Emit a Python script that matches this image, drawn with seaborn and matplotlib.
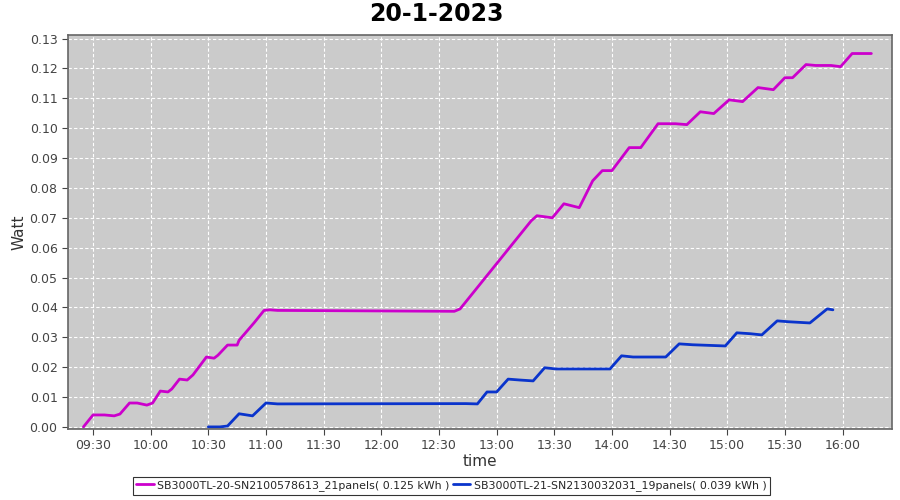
import pandas as pd
import seaborn as sns
import matplotlib.pyplot as plt
import matplotlib.dates as mdates

# values
sb20_times = ['09:25', '09:30', '09:36', '09:41', '09:44', '09:49', '09:53', '09:58', '10:01',
              '10:05', '10:09', '10:11', '10:15', '10:19', '10:22', '10:29', '10:33', '10:35',
              '10:40', '10:45', '10:46', '10:54', '10:59', '11:02', '11:06', '12:38', '12:41',
              '13:18', '13:21', '13:29', '13:35', '13:43', '13:50', '13:55', '14:00', '14:09',
              '14:15', '14:24', '14:33', '14:39', '14:46', '14:53', '15:01', '15:08', '15:16',
              '15:24', '15:30', '15:34', '15:41', '15:46', '15:54', '15:59', '16:05', '16:10', '16:15']
sb20_watt = [0.000, 0.0040, 0.0040, 0.0037, 0.0043, 0.0080, 0.0080, 0.0073, 0.0080,
             0.0120, 0.0117, 0.0127, 0.0160, 0.0157, 0.0174, 0.0234, 0.0230, 0.0240,
             0.0274, 0.0274, 0.0290, 0.0350, 0.0390, 0.0392, 0.0390, 0.0387, 0.0395,
             0.0690, 0.0707, 0.0700, 0.0747, 0.0734, 0.0824, 0.0858, 0.0858, 0.0935,
             0.0935, 0.1015, 0.1015, 0.1012, 0.1055, 0.1049, 0.1095, 0.1089, 0.1136,
             0.1129, 0.1169, 0.1169, 0.1213, 0.1210, 0.1210, 0.1206, 0.1250, 0.1250, 0.1250]

sb21_times = ['10:30', '10:36', '10:40', '10:46', '10:53', '11:00', '11:06', '12:44', '12:50',
              '12:55', '13:00', '13:06', '13:12', '13:19', '13:25', '13:31', '13:59', '14:05',
              '14:11', '14:28', '14:35', '14:42', '14:59', '15:05', '15:12', '15:18', '15:26',
              '15:32', '15:43', '15:52', '15:55']
sb21_watt = [0.000, 0.000, 0.0003, 0.0044, 0.0037, 0.0080, 0.0077, 0.0078, 0.0077,
             0.0117, 0.0117, 0.0160, 0.0157, 0.0154, 0.0198, 0.0194, 0.0194, 0.0238,
             0.0234, 0.0234, 0.0278, 0.0275, 0.0271, 0.0315, 0.0312, 0.0308, 0.0355,
             0.0352, 0.0348, 0.0395, 0.0392]

label20 = 'SB3000TL-20-SN2100578613_21panels( 0.125 kWh )'
label21 = 'SB3000TL-21-SN2130032031_19panels( 0.039 kWh )'
tick_times = ['09:30', '10:00', '10:30', '11:00', '11:30', '12:00', '12:30',
              '13:00', '13:30', '14:00', '14:30', '15:00', '15:30', '16:00']

day = '2023-01-20 '
df = pd.concat([
    pd.DataFrame({'time': pd.to_datetime([day + t for t in sb20_times]), 'Watt': sb20_watt, 'series': label20}),
    pd.DataFrame({'time': pd.to_datetime([day + t for t in sb21_times]), 'Watt': sb21_watt, 'series': label21}),
])

sns.set_style('white')
plt.rcParams['font.family'] = ['DejaVu Sans']
fig = plt.figure(figsize=(9, 5), dpi=100)
ax = fig.add_axes([0.0756, 0.142, 0.915, 0.788])
ax.set_facecolor('#cbcbcb')

sns.lineplot(data=df, x='time', y='Watt', hue='series', palette=['#cc00cc', '#0a34cc'],
             linewidth=2, ax=ax, sort=False)

ax.set_xlim(pd.Timestamp(day + '09:17'), pd.Timestamp(day + '16:25:30'))
ax.set_ylim(-0.0007, 0.1312)
ax.set_xticks(pd.to_datetime([day + t for t in tick_times]))
ax.xaxis.set_major_formatter(mdates.DateFormatter('%H:%M'))
ax.set_yticks([i / 100 for i in range(14)])
ax.yaxis.set_major_formatter(plt.FormatStrFormatter('%.2f'))
ax.grid(True, color='white', linestyle=(0, (3, 2)), linewidth=0.8)
ax.tick_params(axis='both', labelsize=9, colors='#444444', length=4, width=0.8,
               direction='out', bottom=True, left=True)
for s in ax.spines.values():
    s.set_color('#666666')
    s.set_linewidth(1.2)

fig.text(0.485, 0.972, '20-1-2023', fontsize=17, fontweight='bold', color='black',
         ha='center', va='center')
ax.set_xlabel('time', fontsize=11, color='#333333', labelpad=1)
ax.set_ylabel('Watt', fontsize=11, color='#333333', labelpad=2)

leg = ax.legend(loc='upper center', bbox_to_anchor=(0.4655, -0.108), ncol=2, fontsize=7.9,
                frameon=True, fancybox=False, handlelength=1.6, handletextpad=0.3,
                columnspacing=0.3, borderpad=0.3)
leg.get_frame().set_edgecolor('black')
leg.get_frame().set_linewidth(0.8)

plt.savefig('out.png', dpi=100)
